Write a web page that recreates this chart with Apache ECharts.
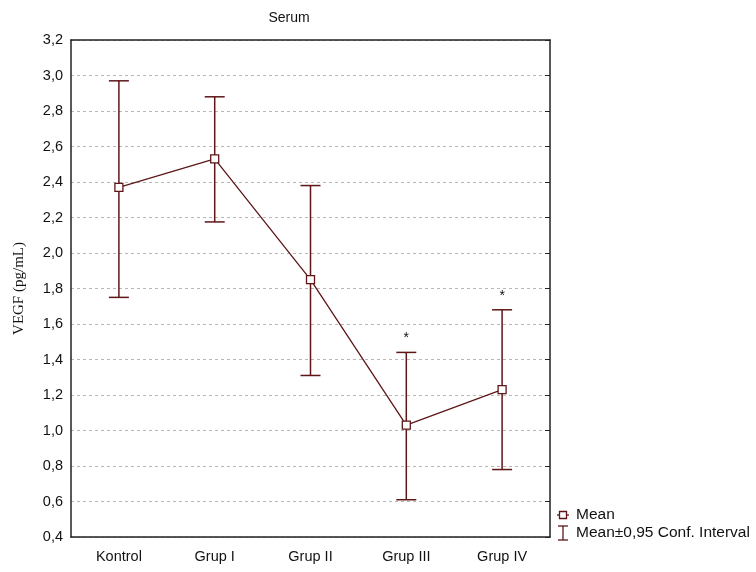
<!DOCTYPE html>
<html>
<head>
<meta charset="utf-8">
<script src="https://cdn.jsdelivr.net/npm/echarts@6/dist/echarts.min.js"></script>
<style>
html,body{margin:0;padding:0;background:#fff;}
#chart{width:756px;height:572px;}
</style>
</head>
<body>
<div id="chart"></div>
<script>
const categories = ["Kontrol", "Grup I", "Grup II", "Grup III", "Grup IV"];
const means = [2.37, 2.53, 1.85, 1.03, 1.23];
const ciLow = [1.75, 2.175, 1.31, 0.61, 0.78];
const ciHigh = [2.97, 2.88, 2.38, 1.44, 1.68];
const marks = ["", "", "", "*", "*"];
const yTicks = [0.4, 3.2, 0.2];

const lineColor = "#5e1616";
const chart = echarts.init(document.getElementById("chart"));
const fmt = v => v.toFixed(1).replace(".", ",");

const errData = categories.map((c, i) => [i, ciLow[i], ciHigh[i], marks[i]]);

chart.setOption({
  animation: false,
  title: {
    text: "Serum", left: 284, top: 6, textAlign: "center",
    textStyle: {fontFamily: "Liberation Sans", fontSize: 14, fontWeight: "normal", color: "#111"}
  },
  grid: {left: 71, right: 206, top: 40, bottom: 35},
  xAxis: [{
    type: "category", data: categories, boundaryGap: true,
    axisLine: {lineStyle: {color: "#222", width: 1.5}},
    axisTick: {inside: true, alignWithLabel: true, length: 5, lineStyle: {color: "#222"}},
    axisLabel: {margin: 12, fontFamily: "Liberation Sans", fontSize: 14.5, color: "#111"}
  }, {
    type: "category", data: categories, position: "top", boundaryGap: true,
    axisLine: {show: true, lineStyle: {color: "#222", width: 1.5}},
    axisTick: {inside: true, alignWithLabel: true, length: 5, lineStyle: {color: "#222"}},
    axisLabel: {show: false}
  }],
  yAxis: [{
    type: "value", min: yTicks[0], max: yTicks[1], interval: yTicks[2],
    name: "VEGF (pg/mL)", nameLocation: "middle", nameGap: 44, nameRotate: 90,
    nameTextStyle: {fontFamily: "Liberation Serif", fontSize: 15, color: "#111"},
    axisLine: {show: true, lineStyle: {color: "#222", width: 1.5}},
    axisTick: {show: false},
    axisLabel: {margin: 8, formatter: fmt, fontFamily: "Liberation Sans", fontSize: 14.5, color: "#111"},
    splitLine: {show: true, lineStyle: {color: "#b8b8b8", type: [3, 3], width: 1}}
  }, {
    type: "value", min: yTicks[0], max: yTicks[1], interval: yTicks[2], position: "right",
    axisLine: {show: true, lineStyle: {color: "#222", width: 1.5}},
    axisTick: {show: true, inside: true, length: 5, lineStyle: {color: "#222"}},
    axisLabel: {show: false},
    splitLine: {show: false}
  }],
  series: [{
    type: "custom",
    data: errData,
    z: 2,
    renderItem: function (params, api) {
      const x = api.value(0);
      const lo = api.coord([x, api.value(1)]);
      const hi = api.coord([x, api.value(2)]);
      const hw = 10;
      const st = {stroke: lineColor, lineWidth: 1.5};
      const children = [
        {type: "line", shape: {x1: lo[0], y1: lo[1], x2: hi[0], y2: hi[1]}, style: st},
        {type: "line", shape: {x1: lo[0] - hw, y1: lo[1], x2: lo[0] + hw, y2: lo[1]}, style: st},
        {type: "line", shape: {x1: hi[0] - hw, y1: hi[1], x2: hi[0] + hw, y2: hi[1]}, style: st}
      ];
      const m = errData[params.dataIndex][3];
      if (m) {
        children.push({type: "text", style: {text: m, x: hi[0], y: hi[1] - 14, align: "center", verticalAlign: "middle",
          fill: "#111", font: "14px Liberation Sans"}});
      }
      return {type: "group", children: children};
    }
  }, {
    type: "line",
    data: means,
    z: 3,
    symbol: "rect",
    symbolSize: 8,
    lineStyle: {color: lineColor, width: 1.3},
    itemStyle: {color: "#fff", borderColor: lineColor, borderWidth: 1.3}
  }],
  graphic: [
    {type: "line", shape: {x1: 557, y1: 515, x2: 569, y2: 515}, style: {stroke: lineColor, lineWidth: 1.3}},
    {type: "rect", shape: {x: 559.5, y: 511.5, width: 7, height: 7}, style: {fill: "#fff", stroke: lineColor, lineWidth: 1.3}},
    {type: "text", style: {text: "Mean", x: 576, y: 515, verticalAlign: "middle", fill: "#111", font: "15.5px Liberation Sans"}},
    {type: "line", shape: {x1: 563, y1: 526, x2: 563, y2: 540}, style: {stroke: lineColor, lineWidth: 1.3}},
    {type: "line", shape: {x1: 558, y1: 526, x2: 568, y2: 526}, style: {stroke: lineColor, lineWidth: 1.3}},
    {type: "line", shape: {x1: 558, y1: 540, x2: 568, y2: 540}, style: {stroke: lineColor, lineWidth: 1.3}},
    {type: "text", style: {text: "Mean\u00b10,95 Conf. Interval", x: 576, y: 533, verticalAlign: "middle", fill: "#111", font: "15.5px Liberation Sans"}}
  ]
});
</script>
</body>
</html>
